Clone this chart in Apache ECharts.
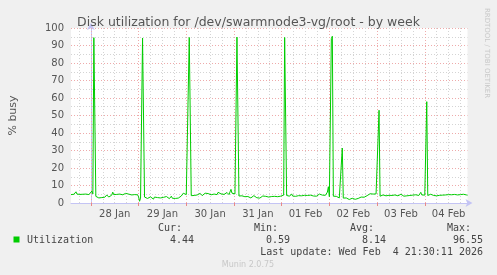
<!DOCTYPE html>
<html><head><meta charset="utf-8">
<script src="https://cdn.jsdelivr.net/npm/echarts@6/dist/echarts.min.js"></script>
<style>html,body{margin:0;padding:0;background:#f0f0f0}#c{width:497px;height:275px}</style>
</head><body><div id="c"></div>
<script>
// time axis in hours relative to 28 Jan 00:00
const START_HOUR = -10;
const END_HOUR = 189.5;
const STEP_HOURS = 0.5;
const dayLabels = ['28 Jan', '29 Jan', '30 Jan', '31 Jan', '01 Feb', '02 Feb', '03 Feb', '04 Feb'];
const yTicks = [0, 10, 20, 30, 40, 50, 60, 70, 80, 90, 100];

// % busy, one value per 30 minutes
const util27 = [4.8, 5.2, 4.6, 5.0, 5.9, 6.4, 5.1, 4.7, 5.3, 4.9, 5.5, 4.6, 5.0, 5.8, 4.7, 5.1, 4.5, 5.2, 4.8, 5.6];
const util28 = [5.0, 6.8, 5.2, 94.5, 95.2, 3.8,
  3.2, 3.6, 2.9, 3.4, 3.8, 3.1, 3.5, 4.2, 3.3, 3.7, 4.6, 3.9, 3.4, 4.1, 3.6,
  4.5, 6.2, 4.8, 4.3, 5.6, 4.9, 5.8, 4.6, 5.1, 4.4, 5.3, 4.7, 5.0, 4.2, 5.5, 4.8, 4.5, 5.1, 4.9, 5.7, 4.6, 5.2, 4.4, 4.8, 5.0, 4.3, 4.7];
const util29 = [3.5, 1.0, 2.8, 3.2, 94.3, 94.0, 3.4,
  2.9, 3.3, 2.6, 3.1, 2.4, 3.5, 2.8, 3.0, 2.2, 3.4, 2.7, 3.8, 3.1, 2.5, 3.3, 2.9, 3.6, 2.6, 3.2, 2.4,
  3.0, 3.7, 2.8, 3.3, 2.5, 3.1, 3.9, 2.7, 3.4, 3.0, 2.6, 3.5, 3.2, 2.8, 3.6, 3.1, 4.0, 3.4,
  5.6, 4.6, 5.0];
const util30 = [4.8, 5.4, 4.6, 94.6, 95.0, 4.2,
  4.5, 5.1, 4.3, 4.9, 5.3, 4.6, 5.0, 4.4, 5.5, 4.8, 4.2, 5.2, 4.7, 5.6, 4.5, 4.9, 5.4, 4.3, 5.0, 4.7,
  5.8, 4.6, 5.1, 4.4, 5.3, 4.8, 6.1, 5.0, 6.6, 5.2, 4.7, 5.5, 4.9, 5.7, 5.1, 6.0, 5.4, 4.8, 6.3, 7.8, 5.6, 5.0];
const util31 = [4.6, 5.2, 4.4, 94.8, 95.1, 4.0,
  3.8, 3.5, 4.1, 3.3, 3.9, 3.6, 4.4, 3.2, 3.7, 4.0, 3.4, 2.9, 3.8, 3.5, 4.2, 3.1, 3.6, 3.0, 3.9, 3.4,
  2.8, 3.7, 3.3, 4.0, 3.5, 3.1, 3.8, 3.6, 4.3, 3.4, 3.9, 3.2, 3.7, 4.1, 3.5, 3.8, 3.3, 4.0, 3.6, 4.2, 4.6, 3.9];
const util01 = [4.2, 3.8, 4.5, 94.6, 95.0, 4.3,
  4.1, 4.6, 3.9, 4.4, 5.2, 4.0, 4.7, 4.3, 3.8, 4.5, 4.9, 4.2, 3.7, 4.6, 4.1, 4.8, 3.9, 4.4, 4.0, 4.7,
  4.3, 5.0, 3.8, 4.5, 4.2, 4.9, 4.0, 4.6, 4.3, 3.9, 4.7, 4.4, 5.1, 4.2, 4.8, 4.5, 4.1, 4.9, 4.4, 5.0, 6.2, 9.3];
const util02 = [3.6, 3.2, 94.0, 95.3, 3.9,
  3.6, 3.3, 3.8, 3.1, 3.5, 2.9, 3.4, 3.0, 31.4,
  2.8, 3.1, 2.5, 2.9, 2.2, 2.6, 2.0, 2.4, 1.9, 2.7, 2.3, 2.8, 2.1, 2.5, 3.0, 2.6, 3.2,
  2.8, 3.4, 3.0, 3.6, 3.3, 3.9, 3.5, 4.2, 3.8, 4.6, 5.3, 4.9, 5.6, 5.1, 5.5, 4.8, 5.2];
const util03 = [4.6, 4.2, 53.0, 3.9,
  4.3, 4.0, 4.6, 4.2, 4.8, 4.1, 4.5, 3.9, 4.4, 4.7, 4.0, 4.3, 4.9, 4.2, 4.6, 3.8, 4.4, 4.1, 4.7, 4.3,
  5.0, 4.2, 4.5, 3.9, 4.6, 4.8, 4.1, 4.4, 5.2, 4.3, 4.6, 4.0, 4.5, 4.9, 4.2, 4.7, 4.4, 5.1, 4.3, 4.8,
  6.1, 4.6, 4.2, 4.9];
const util04 = [4.5, 4.1, 57.9, 4.3,
  4.8, 4.2, 5.0, 4.5, 4.9, 4.3, 5.2, 4.6, 4.1, 4.8, 5.1, 4.4, 4.7, 5.3, 4.5, 4.0, 4.9, 4.6, 5.4, 4.3,
  4.8, 5.0, 4.4, 4.7, 5.2, 4.5, 4.9, 4.2, 5.9, 4.6, 5.1, 4.4, 4.8, 5.3, 4.5, 5.0, 4.7, 5.4, 4.6, 4.44];

const seriesName = 'Utilization';
const statLabels = ['Cur:', 'Min:', 'Avg:', 'Max:'];
const statValues = ['4.44', '0.59', '8.14', '96.55'];
const lastUpdate = 'Last update: Wed Feb  4 21:30:11 2026';

const values = [].concat(util27, util28, util29, util30, util31, util01, util02, util03, util04);
const points = values.map((v, i) => [START_HOUR + i * STEP_HOURS, v]);

const dayLines = [], sixLines = [];
for (let h = -24; h <= END_HOUR; h += 6) {
  if (h <= START_HOUR) continue;
  if (h % 24 === 0) dayLines.push(h); else sixLines.push(h);
}
const labelHours = dayLabels.map((_, i) => i * 24 + 12);

const MONO = 'DejaVu Sans Mono';
const SANS = 'DejaVu Sans';
const statX = [194, 290, 386, 483];

const graphic = [
  { type: 'rect', shape: { x: 13.5, y: 236.5, width: 6, height: 6 }, style: { fill: '#00cc00' } },
  { type: 'text', x: 27, y: 240, style: { text: seriesName, font: '10px ' + MONO, fill: '#444', textVerticalAlign: 'middle' } },
  { type: 'text', x: 483, y: 252, style: { text: lastUpdate, font: '10px ' + MONO, fill: '#444', textAlign: 'right', textVerticalAlign: 'middle' } },
  { type: 'text', x: 248, y: 264.5, style: { text: 'Munin 2.0.75', font: '8px ' + SANS, fill: '#c8c8c8', textAlign: 'center', textVerticalAlign: 'middle' } },
  { type: 'text', x: 487, y: 53, rotation: -Math.PI / 2, style: { text: 'RRDTOOL / TOBI OETIKER', font: '7px ' + SANS, fill: '#c8c8c8', textAlign: 'center', textVerticalAlign: 'middle' } }
];
statLabels.forEach((s, i) => {
  graphic.push({ type: 'text', x: statX[i] - 12, y: 228, style: { text: s, font: '10px ' + MONO, fill: '#444', textAlign: 'right', textVerticalAlign: 'middle' } });
  graphic.push({ type: 'text', x: statX[i], y: 240, style: { text: statValues[i], font: '10px ' + MONO, fill: '#444', textAlign: 'right', textVerticalAlign: 'middle' } });
});

const chart = echarts.init(document.getElementById('c'), null, { renderer: 'canvas' });
chart.setOption({
  backgroundColor: '#f0f0f0',
  animation: false,
  title: {
    text: 'Disk utilization for /dev/swarmnode3-vg/root - by week',
    left: 'center', top: 11,
    textStyle: { fontFamily: SANS, fontSize: 12.5, fontWeight: 'normal', color: '#555' }
  },
  grid: { left: 66.5, right: 29.5, top: 28, bottom: 72, show: true, backgroundColor: '#ffffff', borderWidth: 0 },
  xAxis: {
    type: 'value', min: START_HOUR, max: END_HOUR,
    axisLine: { show: true, lineStyle: { color: '#c4c4f4', width: 1 }, symbol: ['none', 'arrow'], symbolSize: [6, 7], symbolOffset: [0, 5] },
    axisTick: { show: true, customValues: dayLines, length: 3, lineStyle: { color: '#e88888' } },
    axisLabel: { customValues: labelHours, margin: 6, fontFamily: SANS, fontSize: 10, color: '#555',
      formatter: v => dayLabels[Math.round((v - 12) / 24)] },
    splitLine: { show: false }
  },
  yAxis: {
    type: 'value', min: yTicks[0], max: yTicks[yTicks.length - 1], interval: 10,
    name: '% busy', nameLocation: 'middle', nameGap: 52, nameRotate: 90,
    nameTextStyle: { fontFamily: SANS, fontSize: 11, color: '#555' },
    axisLine: { show: true, lineStyle: { color: '#c4c4f4', width: 1 }, symbol: ['none', 'arrow'], symbolSize: [6, 7], symbolOffset: [0, 5] },
    axisTick: { show: false },
    axisLabel: { margin: 7, fontFamily: SANS, fontSize: 10, color: '#555' },
    splitLine: { show: true, lineStyle: { color: '#eeaaaa', type: [1, 2], width: 1 } },
    minorTick: { show: false, splitNumber: 2 },
    minorSplitLine: { show: true, lineStyle: { color: '#d4d4d4', type: [1, 2], width: 1 } }
  },
  graphic: graphic,
  series: [
    {
      type: 'line', data: [], silent: true, z: 1,
      markLine: {
        silent: true, symbol: ['none', 'none'], z: 1, animation: false, label: { show: false },
        data: sixLines.map(h => ({ xAxis: h, lineStyle: { color: '#d4d4d4', type: [1, 2], width: 1 } }))
          .concat(dayLines.map(h => ({ xAxis: h, lineStyle: { color: '#eeaaaa', type: [1, 2], width: 1 } })))
      }
    },
    {
      name: seriesName, type: 'line', data: points, z: 3,
      showSymbol: false, symbol: 'none',
      lineStyle: { color: '#00cc00', width: 1 }
    }
  ]
});
</script>
</body></html>
